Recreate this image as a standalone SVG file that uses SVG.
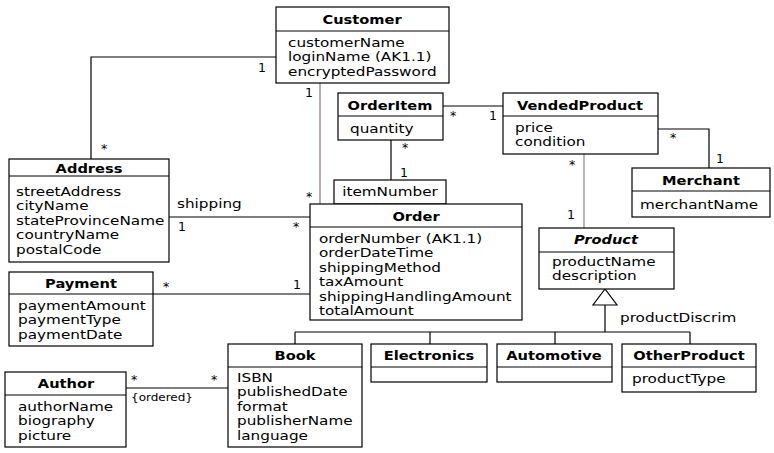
<svg xmlns="http://www.w3.org/2000/svg" width="774" height="453" viewBox="0 0 774 453">
<style>
.box{fill:#fff;stroke:#000;stroke-width:1.2}
.sep{stroke:#000;stroke-width:1}
.t{font-family:"DejaVu Sans","Liberation Sans",sans-serif;font-size:12.3px;fill:#000}
.h{font-family:"DejaVu Sans","Liberation Sans",sans-serif;font-size:12.5px;font-weight:bold;fill:#000;text-anchor:middle}
.m{font-family:"DejaVu Sans","Liberation Sans",sans-serif;font-size:12.5px;fill:#000;text-anchor:middle}
.c{fill:none;stroke:#000;stroke-width:1.2}
</style>
<rect width="774" height="453" fill="#fff"/>
<g id="connectors">
<path class="c" d="M276,57 H91 V159"/>
<path class="c" d="M320,83 V204" style="stroke:#8c6f7d"/>
<path class="c" d="M443,106 H503"/>
<path class="c" d="M391,140 V180"/>
<path class="c" d="M658,129 H709 V168"/>
<path class="c" d="M584,154 V228" style="stroke:#888"/>
<path class="c" d="M169,217 H310"/>
<path class="c" d="M153,294 H310"/>
<path class="c" d="M126,388 H228"/>
<polygon points="605,289 593,305 617,305" fill="#fff" stroke="#000" stroke-width="1.2"/>
<path class="c" d="M605,305 V332 M295,332 H690 M295,332 V344 M430,332 V344 M555,332 V344 M690,332 V344"/>
<text class="m" x="262" y="72">1</text>
<text class="m" x="104" y="153">*</text>
<text class="m" x="309" y="97">1</text>
<text class="m" x="309" y="201">*</text>
<text class="m" x="453" y="120">*</text>
<text class="m" x="493" y="120">1</text>
<text class="m" x="405" y="152">*</text>
<text class="m" x="404" y="177">1</text>
<text class="m" x="673" y="142">*</text>
<text class="m" x="720" y="163">1</text>
<text class="m" x="572" y="169">*</text>
<text class="m" x="571" y="219">1</text>
<text class="t" transform="translate(177,208) scale(1.24,1)">shipping</text>
<text class="m" x="182" y="231">1</text>
<text class="m" x="296" y="231">*</text>
<text class="m" x="166" y="291">*</text>
<text class="m" x="297" y="289">1</text>
<text class="m" x="134" y="384">*</text>
<text class="m" x="214" y="384">*</text>
<text class="t" transform="translate(131,401) scale(1.2,1)" style="font-size:10px">{ordered}</text>
<text class="t" transform="translate(620,322) scale(1.24,1)">productDiscrim</text>
</g>
<g id="Customer">
<rect class="box" x="276" y="7" width="173" height="76"/>
<line class="sep" x1="276" y1="31" x2="449" y2="31"/>
<text class="h" transform="translate(362,24) scale(1.17,1)">Customer</text>
<text class="t" transform="translate(288,47) scale(1.24,1)">customerName</text>
<text class="t" transform="translate(288,61.4) scale(1.24,1)">loginName (AK1.1)</text>
<text class="t" transform="translate(288,75.8) scale(1.24,1)">encryptedPassword</text>
</g>
<g id="Address">
<rect class="box" x="9" y="159" width="160" height="103"/>
<line class="sep" x1="9" y1="176" x2="169" y2="176"/>
<text class="h" transform="translate(89,173) scale(1.17,1)">Address</text>
<text class="t" transform="translate(16,196) scale(1.24,1)">streetAddress</text>
<text class="t" transform="translate(16,210.4) scale(1.24,1)">cityName</text>
<text class="t" transform="translate(16,224.8) scale(1.24,1)">stateProvinceName</text>
<text class="t" transform="translate(16,239.2) scale(1.24,1)">countryName</text>
<text class="t" transform="translate(16,253.6) scale(1.24,1)">postalCode</text>
</g>
<g id="Payment">
<rect class="box" x="9" y="272" width="144" height="74"/>
<line class="sep" x1="9" y1="294" x2="153" y2="294"/>
<text class="h" transform="translate(81,288) scale(1.17,1)">Payment</text>
<text class="t" transform="translate(18,310) scale(1.24,1)">paymentAmount</text>
<text class="t" transform="translate(18,324.4) scale(1.24,1)">paymentType</text>
<text class="t" transform="translate(18,338.8) scale(1.24,1)">paymentDate</text>
</g>
<g id="Author">
<rect class="box" x="5" y="372" width="121" height="75"/>
<line class="sep" x1="5" y1="395" x2="126" y2="395"/>
<text class="h" transform="translate(66,388) scale(1.17,1)">Author</text>
<text class="t" transform="translate(18,411) scale(1.24,1)">authorName</text>
<text class="t" transform="translate(18,425.4) scale(1.24,1)">biography</text>
<text class="t" transform="translate(18,439.8) scale(1.24,1)">picture</text>
</g>
<g id="OrderItem">
<rect class="box" x="338" y="93" width="105" height="47"/>
<line class="sep" x1="338" y1="116" x2="443" y2="116"/>
<text class="h" transform="translate(390,110) scale(1.17,1)">OrderItem</text>
<text class="t" transform="translate(350,133) scale(1.24,1)">quantity</text>
</g>
<g id="Order">
<rect class="box" x="334" y="180" width="112" height="24"/>
<text class="t" transform="translate(390,196) scale(1.24,1)" text-anchor="middle">itemNumber</text>
<rect class="box" x="310" y="204" width="212" height="116"/>
<line class="sep" x1="310" y1="227" x2="522" y2="227"/>
<text class="h" transform="translate(416,221) scale(1.17,1)">Order</text>
<text class="t" transform="translate(319,243) scale(1.24,1)">orderNumber (AK1.1)</text>
<text class="t" transform="translate(319,257.4) scale(1.24,1)">orderDateTime</text>
<text class="t" transform="translate(319,271.8) scale(1.24,1)">shippingMethod</text>
<text class="t" transform="translate(319,286.2) scale(1.24,1)">taxAmount</text>
<text class="t" transform="translate(319,300.6) scale(1.24,1)">shippingHandlingAmount</text>
<text class="t" transform="translate(319,315) scale(1.24,1)">totalAmount</text>
</g>
<g id="VendedProduct">
<rect class="box" x="503" y="93" width="155" height="61"/>
<line class="sep" x1="503" y1="116" x2="658" y2="116"/>
<text class="h" transform="translate(580,110) scale(1.17,1)">VendedProduct</text>
<text class="t" transform="translate(515,132) scale(1.24,1)">price</text>
<text class="t" transform="translate(515,146.4) scale(1.24,1)">condition</text>
</g>
<g id="Merchant">
<rect class="box" x="632" y="168" width="138" height="49"/>
<line class="sep" x1="632" y1="191" x2="770" y2="191"/>
<text class="h" transform="translate(701,185) scale(1.17,1)">Merchant</text>
<text class="t" transform="translate(640,209) scale(1.24,1)">merchantName</text>
</g>
<g id="Product">
<rect class="box" x="539" y="228" width="135" height="61"/>
<line class="sep" x1="539" y1="252" x2="674" y2="252"/>
<text class="h" transform="translate(606,244) scale(1.17,1)" font-style="italic">Product</text>
<text class="t" transform="translate(552,266) scale(1.24,1)">productName</text>
<text class="t" transform="translate(552,280.4) scale(1.24,1)">description</text>
</g>
<g id="Book">
<rect class="box" x="228" y="344" width="134" height="103"/>
<line class="sep" x1="228" y1="367" x2="362" y2="367"/>
<text class="h" transform="translate(295,360) scale(1.17,1)">Book</text>
<text class="t" transform="translate(237,382) scale(1.24,1)">ISBN</text>
<text class="t" transform="translate(237,396.4) scale(1.24,1)">publishedDate</text>
<text class="t" transform="translate(237,410.8) scale(1.24,1)">format</text>
<text class="t" transform="translate(237,425.2) scale(1.24,1)">publisherName</text>
<text class="t" transform="translate(237,439.6) scale(1.24,1)">language</text>
</g>
<g id="Electronics">
<rect class="box" x="371" y="344" width="116" height="38"/>
<line class="sep" x1="371" y1="367" x2="487" y2="367"/>
<text class="h" transform="translate(429,360) scale(1.17,1)">Electronics</text>
</g>
<g id="Automotive">
<rect class="box" x="497" y="344" width="115" height="38"/>
<line class="sep" x1="497" y1="367" x2="612" y2="367"/>
<text class="h" transform="translate(554,360) scale(1.17,1)">Automotive</text>
</g>
<g id="OtherProduct">
<rect class="box" x="622" y="344" width="134" height="48"/>
<line class="sep" x1="622" y1="367" x2="756" y2="367"/>
<text class="h" transform="translate(689,360) scale(1.17,1)">OtherProduct</text>
<text class="t" transform="translate(632,383) scale(1.24,1)">productType</text>
</g>
</svg>
